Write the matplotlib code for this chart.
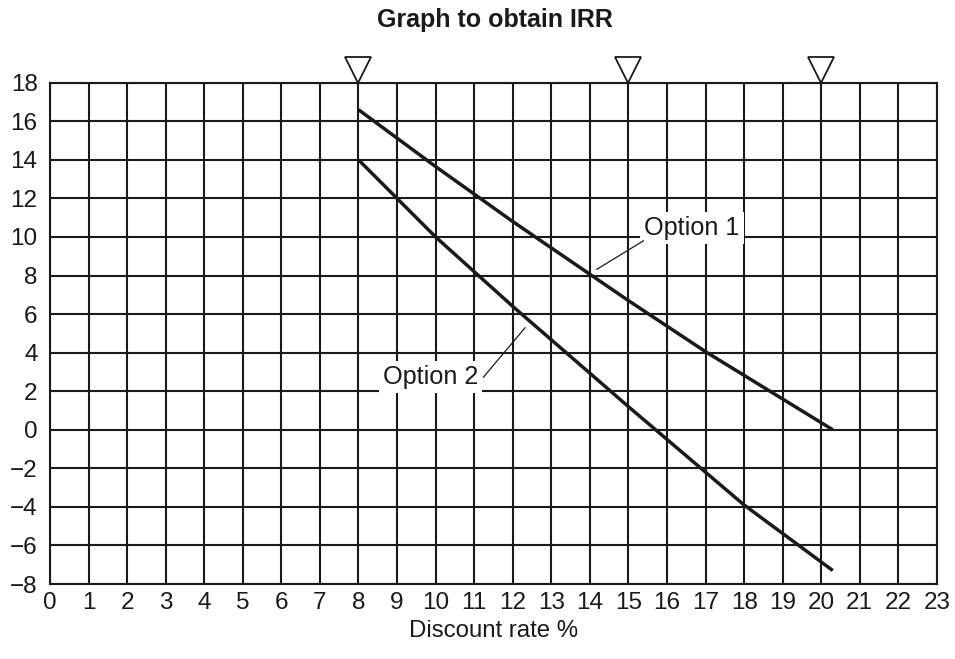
import matplotlib
matplotlib.use("Agg")
import matplotlib.pyplot as plt
from matplotlib.transforms import ScaledTranslation

plt.rcParams["font.family"] = ["Liberation Sans", "DejaVu Sans"]

# Discount rates (%) and net present values
option1_rate = [8, 10, 12, 15, 17, 20.3]
option1_npv = [16.6, 13.65, 10.8, 6.7, 4.05, 0.0]

option2_rate = [8, 10, 12, 15, 18, 20.3]
option2_npv = [14.0, 10.0, 6.4, 1.2, -3.9, -7.3]

# Trial discount rates marked along the top edge
trial_rates = [8, 15, 20]

x_ticks = list(range(0, 24))
y_ticks = list(range(-8, 19, 2))

ink = "#1a1a1a"

fig = plt.figure(figsize=(9.55, 6.59), dpi=100)
ax = fig.add_axes([0.0524, 0.1138, 0.9286, 0.7607])

ax.set_xlim(0, 23)
ax.set_ylim(-8, 18)
ax.set_xticks(x_ticks)
ax.set_yticks(y_ticks)
ax.set_xticklabels([str(v) for v in x_ticks])
ax.set_yticklabels([str(v).replace("-", "\u2212") for v in y_ticks])
ax.tick_params(length=0, labelsize=17.5, colors=ink)
ax.tick_params(axis="y", pad=9)
ax.tick_params(axis="x", pad=6)

ax.set_axisbelow(True)
ax.grid(True, color=ink, linewidth=1.5)
for s in ax.spines.values():
    s.set_color(ink)
    s.set_linewidth(1.5)

ax.plot(option1_rate, option1_npv, color=ink, linewidth=2.5, zorder=4,
        solid_capstyle="butt")
ax.plot(option2_rate, option2_npv, color=ink, linewidth=2.5, zorder=4,
        solid_capstyle="butt")

# Downward triangles sitting on the top edge
ms = 19
shift = ax.transData + ScaledTranslation(0, ms / 2 / 72, fig.dpi_scale_trans)
ax.plot(trial_rates, [18] * len(trial_rates), linestyle="none", marker="v",
        markersize=ms, markerfacecolor="white", markeredgecolor=ink,
        markeredgewidth=1.3, transform=shift, clip_on=False, zorder=5)

label_box = dict(facecolor="white", edgecolor="none", pad=3)
ax.text(16.65, 10.45, "Option 1", fontsize=18.2, ha="center", va="center",
        color=ink, bbox=label_box, zorder=3)
ax.plot([14.18, 15.39], [8.32, 9.8], color=ink, linewidth=0.9, zorder=3)

ax.text(9.87, 2.74, "Option 2", fontsize=18.2, ha="center", va="center",
        color=ink, bbox=label_box, zorder=3)
ax.plot([11.24, 12.32], [2.73, 5.29], color=ink, linewidth=0.9, zorder=3)

ax.set_xlabel("Discount rate %", fontsize=17.3, color=ink, labelpad=4)
fig.text(0.518, 0.969, "Graph to obtain IRR", fontsize=18, fontweight="bold",
         ha="center", va="center", color=ink)

fig.savefig("out.png", dpi=100, facecolor="white")
